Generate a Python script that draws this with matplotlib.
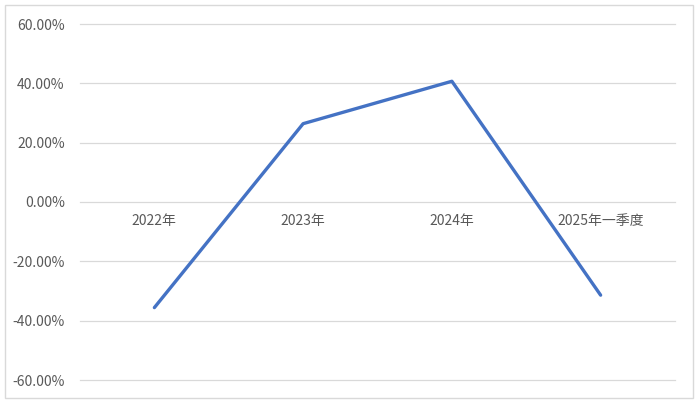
import matplotlib
matplotlib.use("Agg")
import matplotlib.pyplot as plt
from matplotlib.patches import Rectangle
from matplotlib.ticker import FuncFormatter

plt.rcParams['font.family'] = ['Noto Sans CJK SC', 'DejaVu Sans']

categories = ["2022年", "2023年", "2024年", "2025年一季度"]
values = [-35.6, 26.4, 40.7, -31.4]
yticks = [-60, -40, -20, 0, 20, 40, 60]

fig = plt.figure(figsize=(7.0, 4.04), dpi=100)
ax = fig.add_axes([80/700, 1-380/404, 595/700, 356/404])

x = list(range(len(categories)))
ax.plot(x, values, color="#4472C4", linewidth=2.4, solid_capstyle="round", solid_joinstyle="round", zorder=3)

ax.set_xlim(-0.5, len(categories) - 0.5)
ax.set_ylim(-60, 60)
ax.set_yticks(yticks)
ax.yaxis.set_major_formatter(FuncFormatter(lambda v, p: f"{v:.2f}%"))
ax.grid(axis="y", color="#d9d9d9", linewidth=0.9)
ax.set_axisbelow(True)
for gl in ax.get_ygridlines():
    gl.set_clip_on(False)

for s in ["left", "right", "top"]:
    ax.spines[s].set_visible(False)
ax.spines["bottom"].set_position(("data", 0))
ax.spines["bottom"].set_visible(False)
ax.set_xticks(x)
ax.set_xticklabels(categories)
ax.tick_params(axis="x", length=0, pad=9, labelsize=10, labelcolor="#595959")
ax.tick_params(axis="y", length=0, pad=11, labelsize=10, labelcolor="#595959")

fig.patches.append(Rectangle((5/700, 1-398/404), 688/700, 393/404, transform=fig.transFigure,
                             fill=False, edgecolor="#d9d9d9", linewidth=1.0))

fig.savefig("out.png", dpi=100)
